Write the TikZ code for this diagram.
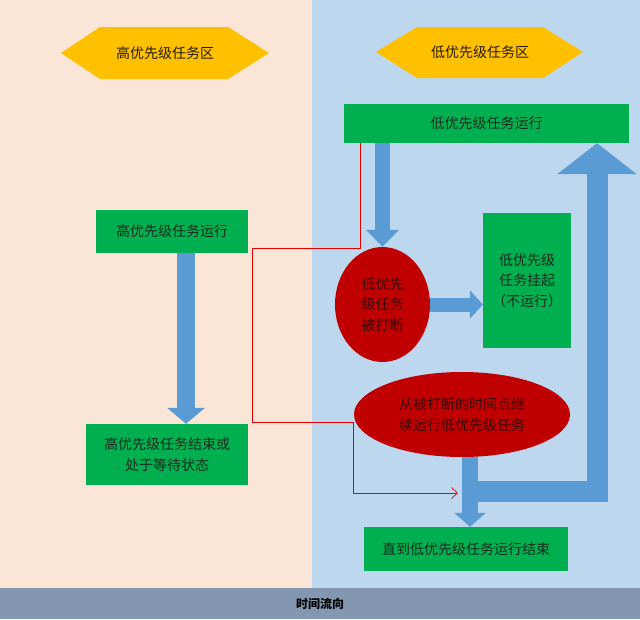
\documentclass[tikz,border=0pt]{standalone}
\usepackage{fontspec}
\newfontfamily\cjk{Noto Sans CJK SC}
\usetikzlibrary{shapes.geometric,arrows.meta}
\definecolor{peach}{HTML}{FBE5D6}
\definecolor{lblue}{HTML}{BDD7EE}
\definecolor{barc}{HTML}{8497B0}
\definecolor{gbox}{HTML}{00B050}
\definecolor{hexc}{HTML}{FFC000}
\definecolor{arrc}{HTML}{5B9BD5}
\definecolor{redc}{HTML}{C00000}
\definecolor{gtext}{HTML}{1C2A1C}
\definecolor{rtext}{HTML}{3A0808}
\tikzset{
  txt/.style={font=\cjk\fontsize{14pt}{20.5pt}\selectfont, align=center, inner sep=0pt},
  greenbox/.style={txt, fill=gbox, text=gtext, rectangle},
  redell/.style={txt, fill=redc, text=rtext, ellipse},
  hextext/.style={txt, text=black!85!hexc},
  blockarrow/.style={draw=arrc, line cap=butt, line join=miter},
  redline/.style={draw=red!90!black, line width=0.7pt}
}
\begin{document}
\begin{tikzpicture}[x=1pt,y=-1pt]
\useasboundingbox (0,0) rectangle (640,619);
\fill[peach] (0,0) rectangle (312,588);
\fill[lblue] (312,0) rectangle (640,588);
\fill[barc] (0,588) rectangle (640,619);
\node[txt, font=\cjk\bfseries\fontsize{12pt}{14pt}\selectfont, text=black] (timeflow) at (320,604) {时间流向};

% hexagons
\fill[hexc] (61,53) -- (100,27) -- (228,27) -- (269,53) -- (228,79) -- (100,79) -- cycle;
\node[hextext] (hzone) at (165,53) {高优先级任务区};
\fill[hexc] (376,52) -- (417,27) -- (543,27) -- (583,52) -- (543,78) -- (417,78) -- cycle;
\node[hextext] (lzone) at (480,52) {低优先级任务区};

% left column
\node[greenbox, minimum width=152pt, minimum height=43pt] (hrun) at (172,231.5) {高优先级任务运行};
\node[greenbox, minimum width=162pt, minimum height=61pt] (hend) at (167,454.5) {高优先级任务结束或\\处于等待状态};

% right column
\node[greenbox, minimum width=285pt, minimum height=39pt] (ltop) at (486.5,123.5) {低优先级任务运行};
\node[redell, minimum width=95pt, minimum height=115pt] (e1) at (382.5,304.5) {低优先\\级任务\\被打断};
\node[greenbox, minimum width=88pt, minimum height=135pt] (susp) at (527,280.5) {低优先级\\任务挂起\\（不运行）};
\node[redell, minimum width=216pt, minimum height=85pt] (e2) at (462,414.5) {从被打断的时间点继\\续运行低优先级任务};
\node[greenbox, minimum width=204pt, minimum height=44pt] (lend) at (466,549) {直到低优先级任务运行结束};

% block arrows
\draw[blockarrow, line width=18pt, -{Triangle[width=37pt,length=16pt]}]
  (186,0 |- hrun.south) -- (186,0 |- hend.north);
\draw[blockarrow, line width=15pt, -{Triangle[width=32pt,length=17pt]}]
  (ltop.south -| e1.north) -- (e1.north);
\draw[blockarrow, line width=14pt, -{Triangle[width=28pt,length=13pt]}]
  (e1.east) -- (e1.east -| susp.west);
\draw[blockarrow, line width=16pt, -{Triangle[width=31pt,length=14pt]}]
  (470,0 |- e2.south) -- (470,0 |- lend.north);
\coordinate (junc) at (462,491);
\draw[blockarrow, line width=21pt, -{Triangle[width=78pt,length=31pt]}]
  (junc) -- (597,491) -- (597,0 |- ltop.south);

% red connector
\coordinate (redend) at (458,493);
\draw[redline, -{Straight Barb[length=6pt,width=11pt]}]
  (360,0 |- ltop.south) -- (360,248) -- (252,248) -- (252,422) -- (353,422) -- (353,493) -- (redend);
\end{tikzpicture}
\end{document}
